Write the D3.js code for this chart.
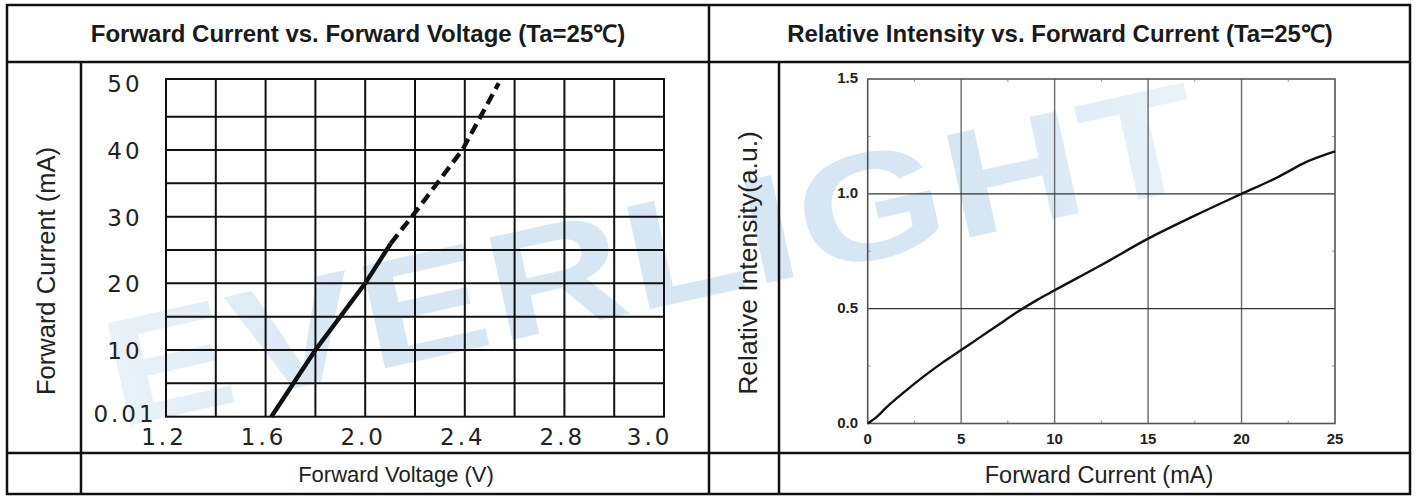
<!DOCTYPE html>
<html>
<head>
<meta charset="utf-8">
<script src="https://cdn.jsdelivr.net/npm/d3@7"></script>
<style>
  body { margin: 0; background: #fff; }
  svg { display: block; }
  .cell { fill: none; stroke: #111; stroke-width: 2.5; }
  .title { font-family: "Liberation Sans", Arial, sans-serif; font-weight: bold; font-size: 24px; fill: #1a1a1a; }
  .axis-title { font-family: "Liberation Sans", Arial, sans-serif; fill: #222; }
  .cad { font-family: "DejaVu Sans", sans-serif; font-size: 23px; letter-spacing: 3px; fill: #222; }
  .bold-tick { font-family: "Liberation Sans", Arial, sans-serif; font-weight: bold; font-size: 15px; fill: #222; }
</style>
</head>
<body>
<script>

// set dimensions for the svg
var W = 1416, H = 496;

// table layout (outer frame, rows, columns)
var tbl = {left: 7, right: 1410, top: 5, head: 62, plotRow: 453, bottom: 494, mid: 709, subL: 81, subR: 779};

// ---- left chart: forward current vs forward voltage ----
var vfSolidV = [1.623, 1.80, 2.00, 2.103];
var vfSolidI = [0, 10, 20, 26];
var vfDashV = [2.103, 2.20, 2.39, 2.536];
var vfDashI = [26, 30.6, 40, 50];
var vfGridV = [1.4, 1.6, 1.8, 2.0, 2.2, 2.4, 2.6, 2.8, 3.0];
var vfGridI = [5, 10, 15, 20, 25, 30, 35, 40, 45];
var vfTickV = [1.2, 1.6, 2.0, 2.4, 2.8, 3.15];
var vfTickVLabels = ["1.2", "1.6", "2.0", "2.4", "2.8", "3.0"];
var vfTickI = [0, 10, 20, 30, 40, 50];
var vfTickILabels = ["0.01", "10", "20", "30", "40", "50"];

// ---- right chart: relative intensity vs forward current ----
var ivCurrent = [0, 0.5, 1, 2, 3, 4, 5, 6, 7, 8, 9, 10, 12.5, 15, 17.5, 20, 22, 23.5, 25];
var ivIntensity = [0, 0.03, 0.07, 0.14, 0.205, 0.265, 0.32, 0.375, 0.43, 0.485, 0.535, 0.58, 0.69, 0.805, 0.905, 1.0, 1.075, 1.14, 1.185];
var ivTickX = [0, 5, 10, 15, 20, 25];
var ivTickY = [0.0, 0.5, 1.0, 1.5];
var ivMinorX = [2.5, 7.5, 12.5, 17.5, 22.5];
var ivMinorY = [0.25, 0.75, 1.25];

var svg = d3.select("body").append("svg")
            .attr("width", W)
            .attr("height", H);

// watermark behind everything
var defs = svg.append("defs");
var grad = defs.append("linearGradient")
               .attr("id", "wm")
               .attr("x1", "0").attr("x2", "1").attr("y1", "0").attr("y2", "0");
grad.append("stop").attr("offset", "0").attr("stop-color", "#eaf2f9");
grad.append("stop").attr("offset", "0.25").attr("stop-color", "#d6e6f3");
grad.append("stop").attr("offset", "0.8").attr("stop-color", "#d6e6f3");
grad.append("stop").attr("offset", "1").attr("stop-color", "#ebf3fa");

// wide, low letters: stretch horizontally in the rotated frame
svg.append("text")
   .attr("transform", "translate(118,428)rotate(-12.6)scale(1.25,1)")
   .attr("font-family", "'Liberation Sans', Arial, sans-serif")
   .attr("font-weight", "bold")
   .attr("font-size", 152)
   .attr("letter-spacing", 3)
   .attr("fill", "url(#wm)")
   .text("EVERLIGHT");

// ---------------- left chart ----------------
var xL = d3.scaleLinear().domain([1.2, 3.2]).range([166, 664]);
var yL = d3.scaleLinear().domain([0, 50]).range([416.7, 83.3]);
var topL = yL(50) - 4.3;

var gL = svg.append("g");

gL.selectAll(".vgrid")
  .data(vfGridV)
  .enter().append("line")
  .attr("x1", function(d) { return xL(d); })
  .attr("x2", function(d) { return xL(d); })
  .attr("y1", topL)
  .attr("y2", yL(0))
  .attr("stroke", "#111")
  .attr("stroke-width", 2);

gL.selectAll(".hgrid")
  .data(vfGridI)
  .enter().append("line")
  .attr("x1", xL(1.2))
  .attr("x2", xL(3.2))
  .attr("y1", function(d) { return yL(d); })
  .attr("y2", function(d) { return yL(d); })
  .attr("stroke", "#111")
  .attr("stroke-width", 2);

gL.append("rect")
  .attr("x", xL(1.2))
  .attr("y", topL)
  .attr("width", xL(3.2) - xL(1.2))
  .attr("height", yL(0) - topL)
  .attr("fill", "none")
  .attr("stroke", "#111")
  .attr("stroke-width", 2);

var lineL = d3.line()
              .x(function(d) { return xL(d[0]); })
              .y(function(d) { return yL(d[1]); });

gL.append("path")
  .attr("d", lineL(d3.zip(vfSolidV, vfSolidI)))
  .attr("fill", "none")
  .attr("stroke", "#111")
  .attr("stroke-width", 4.4);

gL.append("path")
  .attr("d", lineL(d3.zip(vfDashV, vfDashI)))
  .attr("fill", "none")
  .attr("stroke", "#111")
  .attr("stroke-width", 4.4)
  .attr("stroke-dasharray", "11,6");

// tick labels in the cad-like font
gL.selectAll(".xlab")
  .data(vfTickV)
  .enter().append("text")
  .attr("class", "cad")
  .attr("x", function(d) { return xL(d) - 2; })
  .attr("y", 445)
  .attr("text-anchor", "middle")
  .text(function(d, i) { return vfTickVLabels[i]; });

gL.selectAll(".ylab")
  .data(vfTickI)
  .enter().append("text")
  .attr("class", "cad")
  .attr("x", 125)
  .attr("y", function(d, i) { return yL(d) + (i == 0 ? 5 : 9); })
  .attr("text-anchor", "middle")
  .text(function(d, i) { return vfTickILabels[i]; });

// ---------------- right chart ----------------
var xR = d3.scaleLinear().domain([0, 25]).range([867.7, 1335]);
var yR = d3.scaleLinear().domain([0, 1.5]).range([423.5, 79]);

var gR = svg.append("g");

gR.selectAll(".vgrid")
  .data([5, 10, 15, 20])
  .enter().append("line")
  .attr("x1", function(d) { return xR(d); })
  .attr("x2", function(d) { return xR(d); })
  .attr("y1", yR(1.5))
  .attr("y2", yR(0))
  .attr("stroke", "#6a6a6a")
  .attr("stroke-width", 1.4);

gR.selectAll(".hgrid")
  .data([0.5, 1.0])
  .enter().append("line")
  .attr("x1", xR(0))
  .attr("x2", xR(25))
  .attr("y1", function(d) { return yR(d); })
  .attr("y2", function(d) { return yR(d); })
  .attr("stroke", "#333")
  .attr("stroke-width", 1.4);

// minor ticks on all four sides, pointing inward
ivMinorX.forEach(function(d) {
  gR.append("line").attr("x1", xR(d)).attr("x2", xR(d)).attr("y1", yR(1.5)).attr("y2", yR(1.5) + 3)
    .attr("stroke", "#999").attr("stroke-width", 1);
  gR.append("line").attr("x1", xR(d)).attr("x2", xR(d)).attr("y1", yR(0)).attr("y2", yR(0) - 3)
    .attr("stroke", "#999").attr("stroke-width", 1);
});
ivMinorY.forEach(function(d) {
  gR.append("line").attr("x1", xR(0)).attr("x2", xR(0) + 3).attr("y1", yR(d)).attr("y2", yR(d))
    .attr("stroke", "#999").attr("stroke-width", 1);
  gR.append("line").attr("x1", xR(25)).attr("x2", xR(25) - 3).attr("y1", yR(d)).attr("y2", yR(d))
    .attr("stroke", "#999").attr("stroke-width", 1);
});

gR.append("rect")
  .attr("x", xR(0))
  .attr("y", yR(1.5))
  .attr("width", xR(25) - xR(0))
  .attr("height", yR(0) - yR(1.5))
  .attr("fill", "none")
  .attr("stroke", "#555")
  .attr("stroke-width", 1.6);

var lineR = d3.line()
              .x(function(d) { return xR(d[0]); })
              .y(function(d) { return yR(d[1]); })
              .curve(d3.curveMonotoneX);

gR.append("path")
  .attr("d", lineR(d3.zip(ivCurrent, ivIntensity)))
  .attr("fill", "none")
  .attr("stroke", "#111")
  .attr("stroke-width", 2.4);

gR.selectAll(".xlab")
  .data(ivTickX)
  .enter().append("text")
  .attr("class", "bold-tick")
  .attr("x", function(d) { return xR(d); })
  .attr("y", 444)
  .attr("text-anchor", "middle")
  .text(function(d) { return d; });

gR.selectAll(".ylab")
  .data(ivTickY)
  .enter().append("text")
  .attr("class", "bold-tick")
  .attr("x", 858)
  .attr("y", function(d) { return yR(d) + 4; })
  .attr("text-anchor", "end")
  .text(function(d) { return d3.format(".1f")(d); });

// ---------------- table frame ----------------
var t = svg.append("g");
t.append("rect")
 .attr("class", "cell")
 .attr("x", tbl.left).attr("y", tbl.top)
 .attr("width", tbl.right - tbl.left).attr("height", tbl.bottom - tbl.top);
[[tbl.left, tbl.head, tbl.right, tbl.head],
 [tbl.left, tbl.plotRow, tbl.right, tbl.plotRow],
 [tbl.mid, tbl.top, tbl.mid, tbl.bottom],
 [tbl.subL, tbl.head, tbl.subL, tbl.bottom],
 [tbl.subR, tbl.head, tbl.subR, tbl.bottom]].forEach(function(s) {
  t.append("line").attr("class", "cell")
   .attr("x1", s[0]).attr("y1", s[1]).attr("x2", s[2]).attr("y2", s[3]);
});

// titles
t.append("text")
 .attr("class", "title")
 .attr("x", 358)
 .attr("y", 42)
 .attr("text-anchor", "middle")
 .text("Forward Current vs. Forward Voltage (Ta=25\u2103)");
t.append("text")
 .attr("class", "title")
 .attr("x", 1060)
 .attr("y", 42)
 .attr("text-anchor", "middle")
 .text("Relative Intensity vs. Forward Current (Ta=25\u2103)");

// axis titles
t.append("text")
 .attr("class", "axis-title")
 .attr("font-size", 25.5)
 .attr("text-anchor", "middle")
 .attr("transform", "translate(55,271)rotate(-90)")
 .text("Forward Current (mA)");
t.append("text")
 .attr("class", "axis-title")
 .attr("font-size", 26.5)
 .attr("text-anchor", "middle")
 .attr("transform", "translate(757,263)rotate(-90)")
 .text("Relative Intensity(a.u.)");
t.append("text")
 .attr("class", "axis-title")
 .attr("font-size", 22)
 .attr("x", 396)
 .attr("y", 482)
 .attr("text-anchor", "middle")
 .text("Forward Voltage (V)");
t.append("text")
 .attr("class", "axis-title")
 .attr("font-size", 23.5)
 .attr("x", 1099)
 .attr("y", 483)
 .attr("text-anchor", "middle")
 .text("Forward Current (mA)");

</script>
</body>
</html>
